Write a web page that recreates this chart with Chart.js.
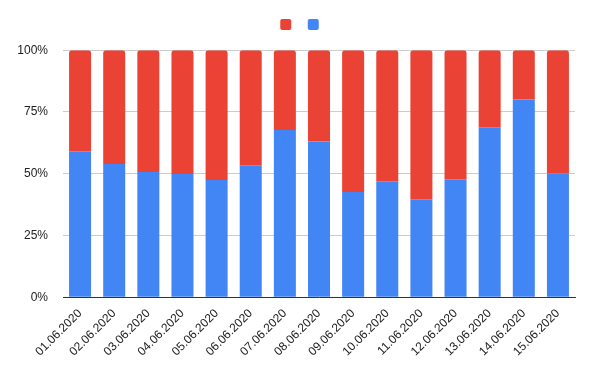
<!DOCTYPE html>
<html lang="en">
<head>
  <meta charset="UTF-8" />
  <title>Daily share</title>
  <script src="https://cdn.jsdelivr.net/npm/chart.js@4.4.1/dist/chart.umd.min.js"></script>
  <style>
    html, body { margin: 0; padding: 0; background: #fff; }
    #wrap { width: 600px; height: 371px; }
  </style>
</head>
<body>
  <div id="wrap"><canvas id="chart" width="600" height="371"></canvas></div>

  <script>
    // values (percent of each day)
    const days = ["01.06.2020", "02.06.2020", "03.06.2020", "04.06.2020", "05.06.2020",
                  "06.06.2020", "07.06.2020", "08.06.2020", "09.06.2020", "10.06.2020",
                  "11.06.2020", "12.06.2020", "13.06.2020", "14.06.2020", "15.06.2020"];
    const blueShare = [59.1, 54.0, 50.7, 49.9, 47.5, 53.4, 67.7, 63.1, 42.6, 47.0, 39.7, 47.8, 68.8, 80.1, 50.2];
    const redShare  = [40.9, 46.0, 49.3, 50.1, 52.5, 46.6, 32.3, 36.9, 57.4, 53.0, 60.3, 52.2, 31.2, 19.9, 49.8];
    const yTicks = [0, 25, 50, 75, 100];

    const font = { family: "'Liberation Sans', Arial, sans-serif", size: 12 };

    // legend sits centred on the page, a bit higher than the chart.js default
    const legendNudge = {
      id: 'legendNudge',
      afterLayout(chart) {
        const lg = chart.legend;
        lg.top = 8;
        lg.left = 0;
        lg.right = 605;
      }
    };

    new Chart(document.getElementById("chart"), {
      type: "bar",
      data: {
        labels: days,
        datasets: [
          {
            label: "",
            data: blueShare,
            backgroundColor: "#4285F4",
            borderRadius: 3,
            barPercentage: 0.645,
            categoryPercentage: 1
          },
          {
            label: "",
            data: redShare,
            backgroundColor: "#EA4335",
            borderRadius: 3,
            barPercentage: 0.645,
            categoryPercentage: 1
          }
        ]
      },
      options: {
        responsive: false,
        animation: false,
        layout: { padding: { left: 17, right: 25, top: 17.7, bottom: 3 } },
        plugins: {
          title: { display: false },
          tooltip: { enabled: false },
          legend: {
            position: "top",
            reverse: true,
            labels: {
              boxWidth: 11,
              boxHeight: 11,
              padding: 10.5,
              useBorderRadius: true,
              borderRadius: 2,
              font: font,
              color: "#222"
            }
          }
        },
        scales: {
          x: {
            stacked: true,
            grid: { display: false, drawTicks: false },
            border: { display: true, color: "#333", width: 1 },
            ticks: {
              font: font,
              color: "#222",
              minRotation: 45,
              maxRotation: 45,
              autoSkip: false,
              padding: 9
            }
          },
          y: {
            stacked: true,
            min: 0,
            max: 100,
            afterBuildTicks(axis) {
              axis.ticks = yTicks.map(v => ({ value: v }));
            },
            afterFit(axis) {
              axis.width = 46;
            },
            grid: { color: "#cccccc", drawTicks: false },
            border: { display: false },
            ticks: {
              font: font,
              color: "#222",
              padding: 15,
              callback: v => v + "%"
            }
          }
        }
      },
      plugins: [legendNudge]
    });
  </script>
</body>
</html>
